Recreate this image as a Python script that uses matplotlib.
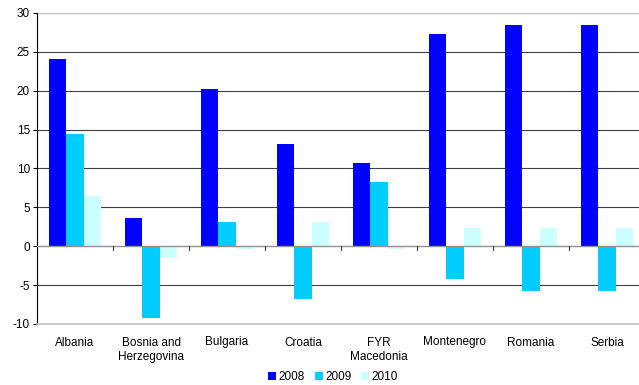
import matplotlib.pyplot as plt
import numpy as np

plt.rcParams['font.family'] = ['Liberation Sans', 'DejaVu Sans']
plt.rcParams['axes.unicode_minus'] = False

countries = ['Albania', 'Bosnia and\nHerzegovina', 'Bulgaria', 'Croatia',
             'FYR\nMacedonia', 'Montenegro', 'Romania', 'Serbia']
years = ['2008', '2009', '2010']
v2008 = [24.1, 3.6, 20.2, 13.1, 10.7, 27.3, 28.5, 28.5]
v2009 = [14.4, -9.2, 3.1, -6.8, 8.2, -4.2, -5.8, -5.8]
v2010 = [6.4, -1.4, -0.3, 3.1, -0.3, 2.4, 2.4, 2.4]
colors = ['#0000ff', '#00ccff', '#ccffff']

fig = plt.figure(figsize=(6.39, 3.85), dpi=100)
ax = fig.add_axes([37 / 639, 1 - 324 / 385, 608 / 639, 311 / 385])

x = np.arange(len(countries))
w = 0.225
for i, (vals, yr) in enumerate(zip([v2008, v2009, v2010], years)):
    ax.bar(x + (i - 1) * w, vals, w, color=colors[i], label=yr, zorder=3)

ax.set_xlim(-0.5, len(countries) - 0.5)
ax.set_ylim(-10, 30)
ax.set_yticks(range(-10, 31, 5))
for yv in range(-5, 30, 5):
    if yv == 0:
        continue
    ax.axhline(yv, color='#404040', lw=0.8, zorder=1)
ax.axhline(30, color='#c0c0c0', lw=1.0, zorder=1)

# zero line with category separators
ax.axhline(0, color='#909090', lw=1.0, zorder=4)
for b in np.arange(0.5, len(countries) - 0.5, 1):
    ax.plot([b, b], [0, -0.5], color='#404040', lw=0.8, zorder=4, clip_on=False)

for s in ['top', 'right']:
    ax.spines[s].set_visible(False)
ax.spines['bottom'].set_color('#c0c0c0')
ax.spines['bottom'].set_linewidth(1.2)
ax.spines['left'].set_color('black')
ax.spines['left'].set_linewidth(0.8)

ax.set_xticks(x)
ax.set_xticklabels(countries, fontsize=8.5, linespacing=1.3)
ax.tick_params(axis='x', length=0, pad=9)
ax.tick_params(axis='y', labelsize=8.5, length=3, width=0.8, pad=2)

handles, labels = ax.get_legend_handles_labels()
fig.legend(handles, labels, loc='center', bbox_to_anchor=(333 / 639, 1 - 377 / 385),
           ncol=3, frameon=False, fontsize=8.5, handlelength=0.7, handleheight=0.7,
           handletextpad=0.2, columnspacing=0.8, borderpad=0)

plt.savefig('out.png', dpi=100)
